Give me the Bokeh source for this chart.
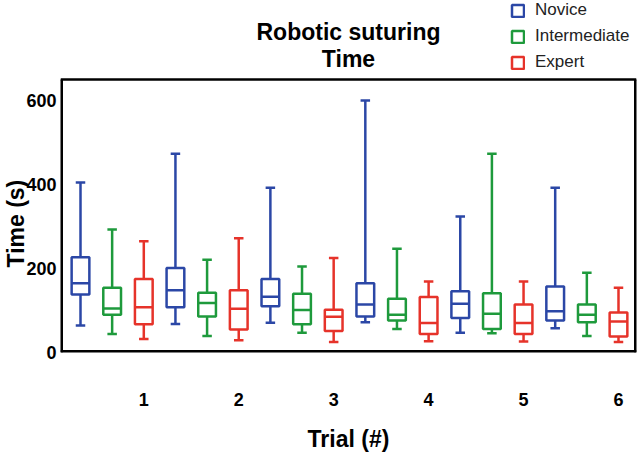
from bokeh.plotting import figure
from bokeh.models import Range1d, FixedTicker, Title, Legend, LegendItem, Label
from bokeh.embed import file_html
from bokeh.resources import INLINE

trials = ["1", "2", "3", "4", "5", "6"]
groups = ["Novice", "Intermediate", "Expert"]
colors = ["#2B47A6", "#1E9A3C", "#E6332A"]
y_ticks = [0, 200, 400, 600]

novice_lower = [64, 68, 71, 72, 47, 58]
novice_q1 = [138, 108, 110, 86, 82, 76]
novice_median = [165, 148, 133, 114, 116, 98]
novice_q3 = [227, 201, 175, 165, 146, 157]
novice_upper = [405, 473, 392, 600, 324, 392]

intermediate_lower = [44, 39, 47, 56, 46, 39]
intermediate_q1 = [90, 86, 67, 76, 56, 72]
intermediate_median = [105, 118, 101, 90, 92, 90]
intermediate_q3 = [154, 142, 140, 128, 141, 114]
intermediate_upper = [293, 221, 205, 247, 473, 190]

expert_lower = [32, 29, 25, 27, 26, 25]
expert_q1 = [67, 55, 51, 44, 44, 38]
expert_median = [108, 104, 85, 70, 70, 74]
expert_q3 = [175, 148, 102, 132, 114, 95]
expert_upper = [265, 272, 225, 169, 169, 154]

stats = [
    (novice_lower, novice_q1, novice_median, novice_q3, novice_upper),
    (intermediate_lower, intermediate_q1, intermediate_median, intermediate_q3, intermediate_upper),
    (expert_lower, expert_q1, expert_median, expert_q3, expert_upper),
]

FONT = "Liberation Sans"

# visible plot box; the frame also holds the title and legend above it
BOX_TOP = 650
X_START, X_END = -0.632, 17.569
FRAME_H = 352
Y_END = BOX_TOP * FRAME_H / 273

p = figure(width=641, height=461, output_backend="svg", toolbar_location=None,
           x_range=Range1d(X_START, X_END), y_range=Range1d(0, Y_END),
           min_border_left=60, min_border_right=5, min_border_top=0,
           min_border_bottom=109)
p.title.visible = False
p.outline_line_color = None
p.grid.visible = False
p.background_fill_color = "white"
p.border_fill_color = "white"

ngroups = len(groups)
tick_pos = [ngroups * i + (ngroups - 1) for i in range(len(trials))]
p.xaxis.ticker = FixedTicker(ticks=tick_pos)
p.xaxis.major_label_overrides = {t: lab for t, lab in zip(tick_pos, trials)}
p.yaxis.ticker = FixedTicker(ticks=y_ticks)

for ax in (p.xaxis, p.yaxis):
    ax.axis_line_color = None
    ax.major_tick_line_color = None
    ax.minor_tick_line_color = None
    ax.major_tick_out = 0
    ax.major_tick_in = 0
    ax.major_label_text_font = FONT
    ax.major_label_text_font_style = "bold"
    ax.major_label_text_font_size = "18px"
    ax.major_label_text_color = "black"
    ax.axis_label_text_font = FONT
    ax.axis_label_text_font_style = "bold"
    ax.axis_label_text_font_size = "23px"
    ax.axis_label_text_color = "black"

p.xaxis.axis_label = "Trial (#)"
p.xaxis.major_label_standoff = 40
p.xaxis.axis_label_standoff = 17
p.yaxis.major_label_standoff = 4

p.add_layout(Title(text="Time (s)", align="left", offset=85, standoff=-10,
                   text_font=FONT, text_font_style="bold", text_font_size="23px",
                   text_color="black"), "left")

# plot box: left/right/bottom edges lie on the frame edge (half clipped)
p.segment(x0=[X_START, X_END, X_START], y0=[0, 0, 0],
          x1=[X_START, X_END, X_END], y1=[BOX_TOP, BOX_TOP, 0],
          line_color="black", line_width=5)
p.segment(x0=[X_START], y0=[BOX_TOP], x1=[X_END], y1=[BOX_TOP],
          line_color="black", line_width=2.5)

half_box = 0.28
half_cap = 0.15
legend_items = []
for g, (name, col, (lo, q1, med, q3, up)) in enumerate(zip(groups, colors, stats)):
    xs = [ngroups * t + g for t in range(len(trials))]
    p.segment(x0=xs, y0=lo, x1=xs, y1=q1, line_color=col, line_width=2.5)
    p.segment(x0=xs, y0=q3, x1=xs, y1=up, line_color=col, line_width=2.5)
    p.segment(x0=[x - half_cap for x in xs], y0=lo, x1=[x + half_cap for x in xs], y1=lo,
              line_color=col, line_width=2.5)
    p.segment(x0=[x - half_cap for x in xs], y0=up, x1=[x + half_cap for x in xs], y1=up,
              line_color=col, line_width=2.5)
    r = p.quad(left=[x - half_box for x in xs], right=[x + half_box for x in xs],
               bottom=q1, top=q3, fill_color="white", line_color=col, line_width=2.5)
    p.segment(x0=[x - half_box for x in xs], y0=med, x1=[x + half_box for x in xs], y1=med,
              line_color=col, line_width=2.5)
    legend_items.append(LegendItem(label=name, renderers=[r]))

legend = Legend(items=legend_items, location=(450, FRAME_H - 72),
                glyph_width=15, glyph_height=15, label_height=20, spacing=6,
                label_standoff=10, padding=0, margin=0,
                label_text_font=FONT, label_text_font_size="17px",
                label_text_color="#222222",
                background_fill_alpha=0, border_line_color=None)
p.add_layout(legend, "center")

x_mid = (X_START + X_END) / 2
p.add_layout(Label(x=x_mid, y=BOX_TOP * 764 / 650, text="Robotic suturing",
                   text_align="center", text_baseline="middle", text_font=FONT,
                   text_font_style="bold", text_font_size="23px", text_color="black"))
p.add_layout(Label(x=x_mid, y=BOX_TOP * 700 / 650, text="Time",
                   text_align="center", text_baseline="middle", text_font=FONT,
                   text_font_style="bold", text_font_size="23px", text_color="black"))

open("out.html", "w").write(file_html(p, INLINE))
